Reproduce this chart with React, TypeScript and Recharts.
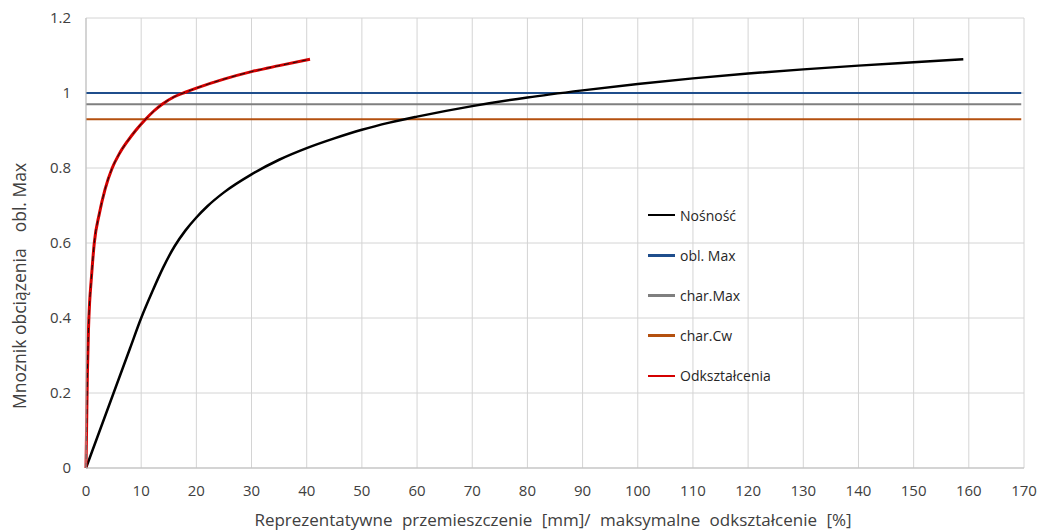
import React from "react";
import { LineChart, Line, XAxis, YAxis, CartesianGrid } from "recharts";

// Nośność curve (x: displacement, y: load multiplier)
const nosnoscX = [0, 2, 5, 8, 10, 12, 14, 16, 18, 20, 22, 25, 30, 35, 40, 45, 50, 55, 60, 70, 80, 90, 100, 110, 120, 130, 140, 150, 159];
const nosnoscY = [0, 0.08, 0.2, 0.32, 0.4, 0.47, 0.535, 0.59, 0.633, 0.668, 0.698, 0.735, 0.783, 0.822, 0.853, 0.879, 0.902, 0.921, 0.937, 0.965, 0.988, 1.007, 1.024, 1.039, 1.052, 1.063, 1.073, 1.082, 1.09];

// Odkształcenia curve
const odkX = [0, 0.1, 0.25, 0.45, 0.65, 0.94, 1.2, 1.5, 2.4, 3.45, 4.75, 6, 7.5, 9, 10.8, 12.3, 13.8, 16, 18, 20, 25, 30, 35, 40.6];
const odkY = [0, 0.1, 0.25, 0.37, 0.44, 0.5, 0.55, 0.6, 0.677, 0.743, 0.8, 0.837, 0.871, 0.9, 0.93, 0.952, 0.97, 0.99, 1.002, 1.013, 1.037, 1.057, 1.073, 1.09];

// Horizontal reference levels
const levelX = [0, 169.5];
const oblMax = 1.0;
const charMax = 0.97;
const charCw = 0.93;

const xTicks = [0, 10, 20, 30, 40, 50, 60, 70, 80, 90, 100, 110, 120, 130, 140, 150, 160, 170];
const yTicks = [0, 0.2, 0.4, 0.6, 0.8, 1, 1.2];

const xLabel = "Reprezentatywne przemieszczenie [mm]/ maksymalne odkształcenie [%]";
const yLabelA = "Mnoznik obciązenia";
const yLabelB = "obl. Max";

const zip = (xs: number[], ys: number[]) => xs.map((x, i) => ({ x, y: ys[i] }));
const flat = (xs: number[], v: number) => xs.map((x) => ({ x, y: v }));

const nosnoscData = zip(nosnoscX, nosnoscY);
const odkData = zip(odkX, odkY);
const oblData = flat(levelX, oblMax);
const charMaxData = flat(levelX, charMax);
const charCwData = flat(levelX, charCw);

const legendItems = [
  { name: "Nośność", color: "#000000" },
  { name: "obl. Max", color: "#1F4E8C" },
  { name: "char.Max", color: "#7F7F7F" },
  { name: "char.Cw", color: "#B4500F" },
  { name: "Odkształcenia", color: "#D40000" },
];

const FONT = "'Open Sans', sans-serif";

const YLabel = () => (
  <text
    x={19}
    y={286}
    transform="rotate(-90, 19, 286)"
    textAnchor="middle"
    dominantBaseline="central"
    fontSize={17.5}
    fill="#404040"
    fontFamily={FONT}
  >
    {yLabelA}
    <tspan dx={16}>{yLabelB}</tspan>
  </text>
);

const XLabel = () => (
  <text
    x={553}
    y={526}
    textAnchor="middle"
    fontSize={17}
    fill="#404040"
    fontFamily={FONT}
    style={{ wordSpacing: 5 }}
  >
    {xLabel}
  </text>
);

export default function App() {
  return (
    <div style={{ position: "absolute", left: 0, top: 0, width: 1041, height: 531, background: "#fff" }}>
      <LineChart width={1041} height={531} margin={{ top: 18, right: 17, left: 0, bottom: 0 }}>
        <CartesianGrid stroke="#d4d4d4" strokeWidth={1} />
        <XAxis
          type="number"
          dataKey="x"
          domain={[0, 170]}
          ticks={xTicks}
          interval={0}
          height={63}
          tickSize={0}
          tickMargin={17}
          axisLine={{ stroke: "#bfbfbf" }}
          tick={{ fontSize: 15, fill: "#404040", fontFamily: FONT }}
          label={<XLabel />}
        />
        <YAxis
          type="number"
          dataKey="y"
          domain={[0, 1.2]}
          ticks={yTicks}
          interval={0}
          width={86}
          tickSize={0}
          tickMargin={15}
          axisLine={{ stroke: "#bfbfbf" }}
          tick={{ fontSize: 15, fill: "#404040", fontFamily: FONT }}
          label={<YLabel />}
        />
        <Line data={oblData} dataKey="y" name="obl. Max" stroke="#1F4E8C" strokeWidth={2} dot={false} isAnimationActive={false} />
        <Line data={charMaxData} dataKey="y" name="char.Max" stroke="#7F7F7F" strokeWidth={2} dot={false} isAnimationActive={false} />
        <Line data={charCwData} dataKey="y" name="char.Cw" stroke="#B4500F" strokeWidth={2} dot={false} isAnimationActive={false} />
        <Line data={nosnoscData} dataKey="y" name="Nośność" type="monotone" stroke="#000000" strokeWidth={2.5} dot={false} isAnimationActive={false} />
        <Line data={odkData} dataKey="y" name="Odkształcenia" type="monotone" stroke="#D40000" strokeWidth={3} dot={false} isAnimationActive={false} />
        <Line data={odkData} dataKey="y" name="overlay" legendType="none" type="monotone" stroke="#111111" strokeWidth={1} strokeDasharray="5 4" dot={false} isAnimationActive={false} />
      </LineChart>
      <div style={{ position: "absolute", left: 648, top: 195, fontFamily: FONT }}>
        {legendItems.map((it) => (
          <div key={it.name} style={{ display: "flex", alignItems: "center", height: 40.2 }}>
            <div style={{ width: 27, height: 2.5, background: it.color, marginRight: 5 }} />
            <span style={{ fontSize: 14, color: "#262626" }}>{it.name}</span>
          </div>
        ))}
      </div>
    </div>
  );
}
